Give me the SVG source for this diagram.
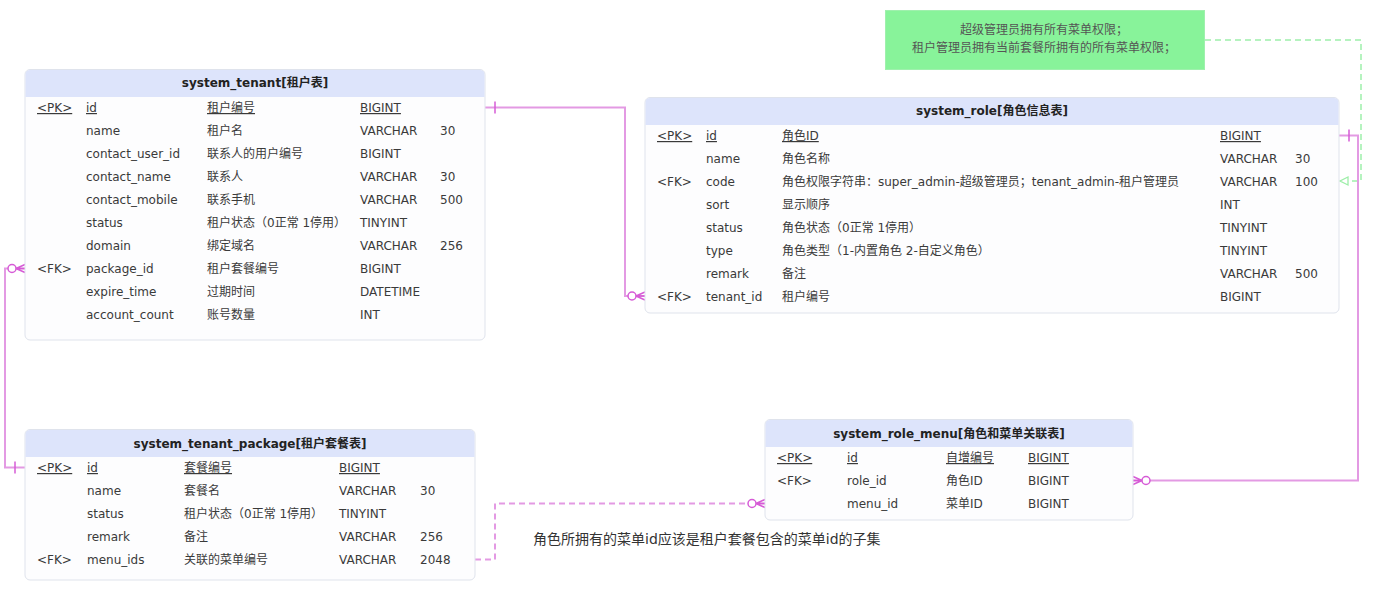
<svg xmlns="http://www.w3.org/2000/svg" width="1375" height="594" viewBox="0 0 1375 594">
<style>
  .body{fill:#fdfdfe;stroke:#dfe3ec;stroke-width:1}
  .head{fill:#dde4fb}
  .title{font-family:"DejaVu Sans","Noto Sans CJK SC",sans-serif;font-size:12px;font-weight:bold;fill:#222;text-anchor:middle}
  .t{font-family:"DejaVu Sans","Noto Sans CJK SC",sans-serif;font-size:12px;fill:#3a3a3a}
  .u{text-decoration:underline}
  .note{font-family:"DejaVu Sans","Noto Sans CJK SC",sans-serif;font-size:12px;fill:#555;text-anchor:middle}
  .ann{font-family:"DejaVu Sans","Noto Sans CJK SC",sans-serif;font-size:14px;fill:#333}
  .rel{fill:none;stroke:#e39ae3;stroke-width:2}
  .dash{stroke-dasharray:6 4}
  .gline{fill:none;stroke:#b5f3bf;stroke-width:2;stroke-dasharray:6 4}
  .mk{fill:none;stroke:#d65bd6;stroke-width:1.5}
</style>
<defs>
  <marker id="one" markerUnits="userSpaceOnUse" viewBox="0 -8 20 16" refX="0" refY="0" markerWidth="20" markerHeight="16" orient="auto">
    <line class="mk" x1="10" y1="-6" x2="10" y2="6"/>
  </marker>
  <marker id="many0" markerUnits="userSpaceOnUse" viewBox="-20 -8 22 16" refX="0" refY="0" markerWidth="22" markerHeight="16" orient="auto">
    <circle cx="-13" cy="0" r="4" fill="#ffffff" stroke="#d65bd6" stroke-width="1.5"/>
    <path class="mk" d="M-9 0 L0 -4 M-9 0 L0 4 M-9 0 L0 0"/>
  </marker>
  <marker id="tri" markerUnits="userSpaceOnUse" viewBox="-10 -6 12 12" refX="0" refY="0" markerWidth="12" markerHeight="12" orient="auto">
    <path d="M-8 -4 L0 0 L-8 4 Z" fill="#ffffff" stroke="#9deea8" stroke-width="1.3"/>
  </marker>
</defs>

<g id="connectors">
  <path class="gline" d="M1205 40 H1361 V181 H1340" marker-end="url(#tri)"/>
  <path class="rel" d="M485 107.5 H625 V296 H645" marker-start="url(#one)" marker-end="url(#many0)"/>
  <path class="rel" d="M25 467.5 H5 V268.5 H25" marker-start="url(#one)" marker-end="url(#many0)"/>
  <path class="rel" d="M1339 135.5 H1358 V480.5 H1133" marker-start="url(#one)" marker-end="url(#many0)"/>
  <path class="rel dash" d="M475 559.5 H495 V503.5 H765" marker-end="url(#many0)"/>
</g>

<g id="note">
  <rect x="885.5" y="10.5" width="319" height="59" fill="#88f39a" stroke="#9ff0ad" stroke-width="1"/>
  <text class="note" x="1044" y="34">超级管理员拥有所有菜单权限；</text>
  <text class="note" x="1044" y="52">租户管理员拥有当前套餐所拥有的所有菜单权限；</text>
</g>

<g id="annotation">
  <text class="ann" x="533" y="544">角色所拥有的菜单id应该是租户套餐包含的菜单id的子集</text>
</g>

<g id="system_tenant">
  <rect class="body" x="25" y="69.5" width="460" height="270.5" rx="5"/>
  <path class="head" d="M25.5 97 V74.5 A4.5 4.5 0 0 1 30 70 H480 A4.5 4.5 0 0 1 484.5 74.5 V97 Z"/>
  <text class="title" x="255" y="87">system_tenant[租户表]</text>
  <g class="t">
    <text class="u" x="37" y="112">&lt;PK&gt;</text><text class="u" x="86" y="112">id</text><text class="u" x="207" y="112">租户编号</text><text class="u" x="360" y="112">BIGINT</text>
    <text x="86" y="135">name</text><text x="207" y="135">租户名</text><text x="360" y="135">VARCHAR</text><text x="440" y="135">30</text>
    <text x="86" y="158">contact_user_id</text><text x="207" y="158">联系人的用户编号</text><text x="360" y="158">BIGINT</text>
    <text x="86" y="181">contact_name</text><text x="207" y="181">联系人</text><text x="360" y="181">VARCHAR</text><text x="440" y="181">30</text>
    <text x="86" y="204">contact_mobile</text><text x="207" y="204">联系手机</text><text x="360" y="204">VARCHAR</text><text x="440" y="204">500</text>
    <text x="86" y="227">status</text><text x="207" y="227">租户状态（0正常 1停用）</text><text x="360" y="227">TINYINT</text>
    <text x="86" y="250">domain</text><text x="207" y="250">绑定域名</text><text x="360" y="250">VARCHAR</text><text x="440" y="250">256</text>
    <text x="37" y="273">&lt;FK&gt;</text><text x="86" y="273">package_id</text><text x="207" y="273">租户套餐编号</text><text x="360" y="273">BIGINT</text>
    <text x="86" y="296">expire_time</text><text x="207" y="296">过期时间</text><text x="360" y="296">DATETIME</text>
    <text x="86" y="319">account_count</text><text x="207" y="319">账号数量</text><text x="360" y="319">INT</text>
  </g>
</g>

<g id="system_tenant_package">
  <rect class="body" x="25" y="429.5" width="450" height="150.5" rx="5"/>
  <path class="head" d="M25.5 457 V434.5 A4.5 4.5 0 0 1 30 430 H470 A4.5 4.5 0 0 1 474.5 434.5 V457 Z"/>
  <text class="title" x="250" y="447.5">system_tenant_package[租户套餐表]</text>
  <g class="t">
    <text class="u" x="37" y="472">&lt;PK&gt;</text><text class="u" x="87" y="472">id</text><text class="u" x="184" y="472">套餐编号</text><text class="u" x="339" y="472">BIGINT</text>
    <text x="87" y="495">name</text><text x="184" y="495">套餐名</text><text x="339" y="495">VARCHAR</text><text x="420" y="495">30</text>
    <text x="87" y="518">status</text><text x="184" y="518">租户状态（0正常 1停用）</text><text x="339" y="518">TINYINT</text>
    <text x="87" y="541">remark</text><text x="184" y="541">备注</text><text x="339" y="541">VARCHAR</text><text x="420" y="541">256</text>
    <text x="37" y="564">&lt;FK&gt;</text><text x="87" y="564">menu_ids</text><text x="184" y="564">关联的菜单编号</text><text x="339" y="564">VARCHAR</text><text x="420" y="564">2048</text>
  </g>
</g>

<g id="system_role">
  <rect class="body" x="645" y="97.5" width="694" height="215.5" rx="5"/>
  <path class="head" d="M645.5 125 V102.5 A4.5 4.5 0 0 1 650 98 H1334 A4.5 4.5 0 0 1 1338.5 102.5 V125 Z"/>
  <text class="title" x="992" y="115">system_role[角色信息表]</text>
  <g class="t">
    <text class="u" x="657" y="140">&lt;PK&gt;</text><text class="u" x="706" y="140">id</text><text class="u" x="782" y="140">角色ID</text><text class="u" x="1220" y="140">BIGINT</text>
    <text x="706" y="163">name</text><text x="782" y="163">角色名称</text><text x="1220" y="163">VARCHAR</text><text x="1295" y="163">30</text>
    <text x="657" y="186">&lt;FK&gt;</text><text x="706" y="186">code</text><text x="782" y="186">角色权限字符串：super_admin-超级管理员；tenant_admin-租户管理员</text><text x="1220" y="186">VARCHAR</text><text x="1295" y="186">100</text>
    <text x="706" y="209">sort</text><text x="782" y="209">显示顺序</text><text x="1220" y="209">INT</text>
    <text x="706" y="232">status</text><text x="782" y="232">角色状态（0正常 1停用）</text><text x="1220" y="232">TINYINT</text>
    <text x="706" y="255">type</text><text x="782" y="255">角色类型（1-内置角色 2-自定义角色）</text><text x="1220" y="255">TINYINT</text>
    <text x="706" y="278">remark</text><text x="782" y="278">备注</text><text x="1220" y="278">VARCHAR</text><text x="1295" y="278">500</text>
    <text x="657" y="301">&lt;FK&gt;</text><text x="706" y="301">tenant_id</text><text x="782" y="301">租户编号</text><text x="1220" y="301">BIGINT</text>
  </g>
</g>

<g id="system_role_menu">
  <rect class="body" x="765" y="419.5" width="368" height="100.5" rx="5"/>
  <path class="head" d="M765.5 447 V424.5 A4.5 4.5 0 0 1 770 420 H1128 A4.5 4.5 0 0 1 1132.5 424.5 V447 Z"/>
  <text class="title" x="949" y="437.5">system_role_menu[角色和菜单关联表]</text>
  <g class="t">
    <text class="u" x="777" y="462">&lt;PK&gt;</text><text class="u" x="847" y="462">id</text><text class="u" x="946" y="462">自增编号</text><text class="u" x="1028" y="462">BIGINT</text>
    <text x="777" y="485">&lt;FK&gt;</text><text x="847" y="485">role_id</text><text x="946" y="485">角色ID</text><text x="1028" y="485">BIGINT</text>
    <text x="847" y="508">menu_id</text><text x="946" y="508">菜单ID</text><text x="1028" y="508">BIGINT</text>
  </g>
</g>
</svg>
